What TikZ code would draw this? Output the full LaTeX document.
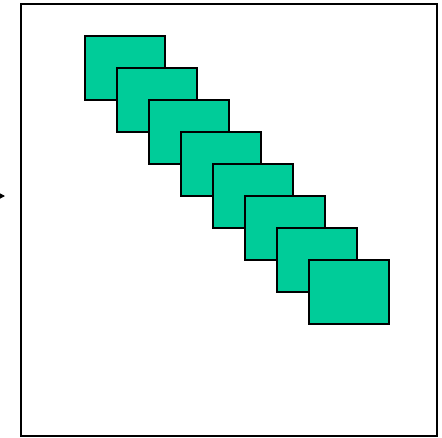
\documentclass[tikz,border=0pt]{standalone}
\usetikzlibrary{arrows.meta}
\definecolor{boxgreen}{HTML}{00CC99}
\begin{document}
\begin{tikzpicture}[x=1pt,y=-1pt,
  frame/.style={draw=black,line width=2pt,minimum width=416pt,minimum height=432pt,inner sep=0pt,outer sep=0pt},
  gbox/.style={draw=black,line width=1.6pt,fill=boxgreen,minimum width=80pt,minimum height=64pt,inner sep=0pt,outer sep=0pt}]
\useasboundingbox (0,0) rectangle (442,437);
\node[frame] (fr) at (229,220) {};
\foreach \i in {0,...,7}{
  \node[gbox] (b\i) at ({125+32*\i},{68+32*\i}) {};
}
\coordinate (as) at (-12,196);
\coordinate (ae) at (5,196);
\draw[-{Triangle[length=5pt,width=5pt]},line width=1pt] (as) -- (ae);
\end{tikzpicture}
\end{document}
